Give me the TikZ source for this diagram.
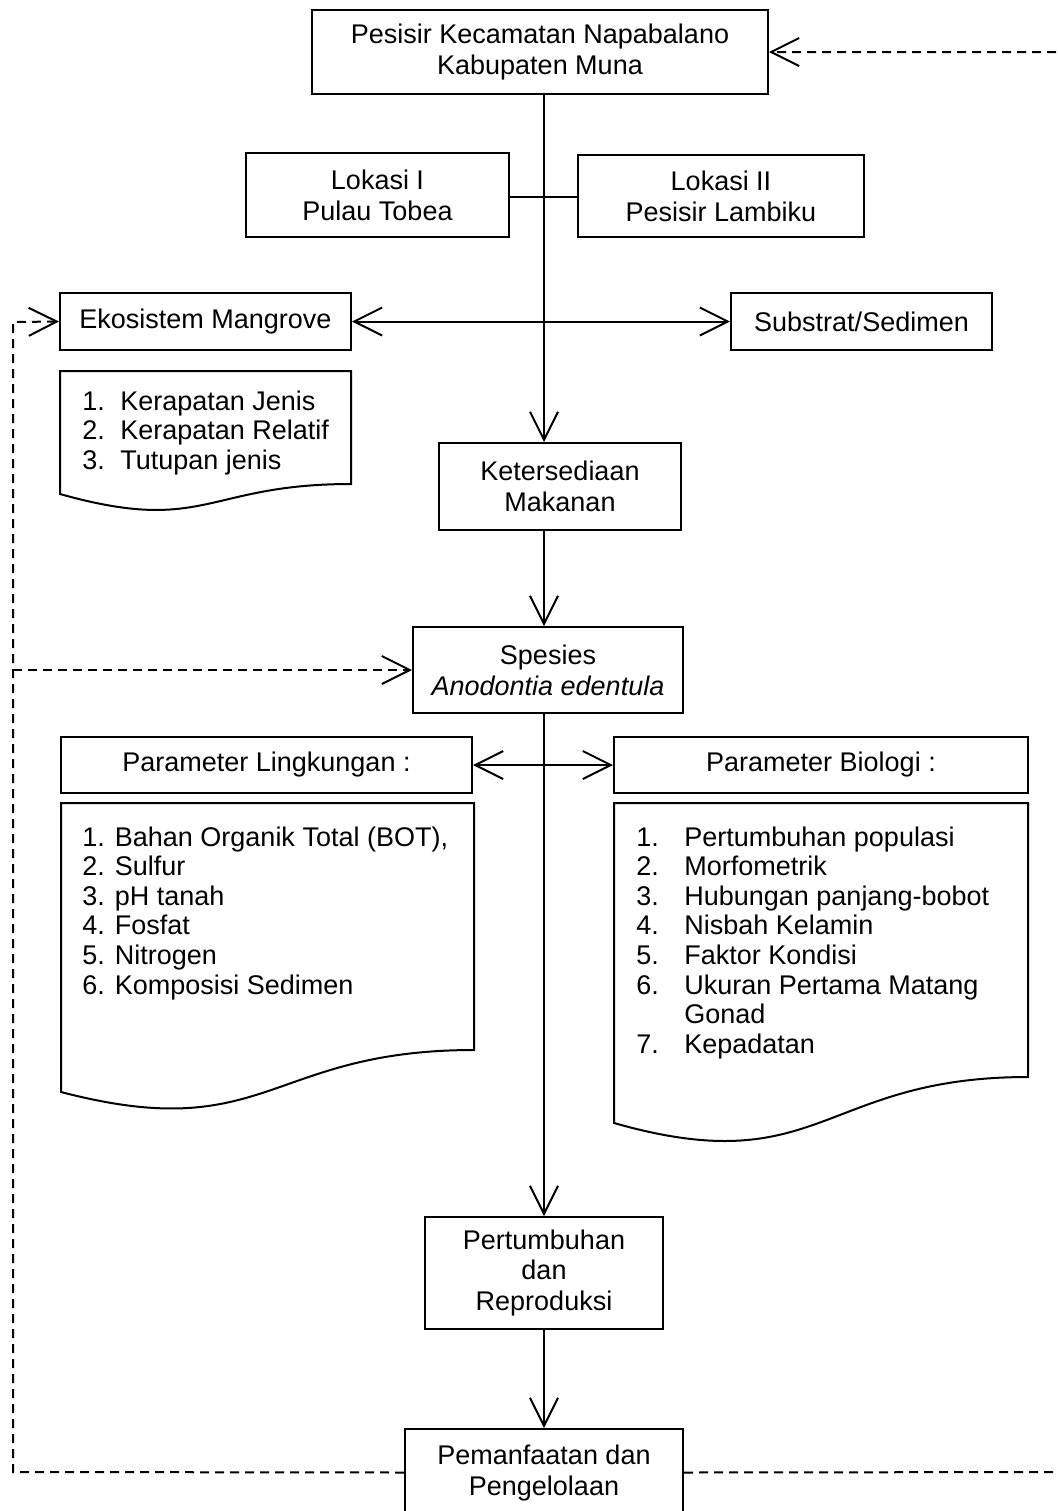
\documentclass[tikz,border=0pt]{standalone}
\usepackage{fontspec}
\setmainfont{Liberation Sans}
\usetikzlibrary{arrows.meta}
\begin{document}
\begin{tikzpicture}[x=0.5pt,y=-0.5pt,
  every node/.style={font=\fontsize{13.5}{15.5}\selectfont},
  box/.style={draw, line width=1pt, align=center, inner sep=0pt},
  doc/.style={draw, line width=1pt},
  lst/.style={anchor=base west, inner sep=0pt, font=\fontsize{13.5}{14.8}\selectfont},
  conn/.style={line width=1pt},
  arr/.style={line width=1pt, -{Straight Barb[length=14pt,width=14pt]}},
  darr/.style={line width=1pt, {Straight Barb[length=14pt,width=14pt]}-{Straight Barb[length=14pt,width=14pt]}},
  fbarr/.style={line width=1pt, dash pattern=on 4.5pt off 3pt, -{Straight Barb[length=14pt,width=14pt]}},
]
\path[use as bounding box, clip] (0,0) rectangle (1058,1511);

% boxes
\node[box, minimum width=228pt, minimum height=42pt] (top) at (540,52) {Pesisir Kecamatan Napabalano\\Kabupaten Muna};
\node[box, minimum width=131.5pt, minimum height=42pt] (lok1) at (377.5,195) {Lokasi I\\Pulau Tobea};
\node[box, minimum width=143pt, minimum height=41pt] (lok2) at (721,196) {Lokasi II\\Pesisir Lambiku};
\node[box, minimum width=145.5pt, minimum height=28.5pt] (eko) at (205.5,321.5) {Ekosistem Mangrove};
\node[box, minimum width=130.5pt, minimum height=28.5pt] (sub) at (861.5,321.5) {Substrat/Sedimen};
\node[box, minimum width=121pt, minimum height=43.5pt] (ket) at (560,486.5) {Ketersediaan\\Makanan};
\node[box, minimum width=135pt, minimum height=43pt] (spe) at (548,670) {Spesies\\\textit{Anodontia edentula}};
\node[box, minimum width=205.5pt, minimum height=28pt] (pl) at (266.5,765) {Parameter Lingkungan :};
\node[box, minimum width=207pt, minimum height=28pt] (pb) at (821,765) {Parameter Biologi :};
\node[box, minimum width=119pt, minimum height=56pt] (per) at (544,1273) {Pertumbuhan\\dan\\Reproduksi};
\node[box, minimum width=139pt, minimum height=43.5pt] (pem) at (544,1472.5) {Pemanfaatan dan\\Pengelolaan};

% document shapes
\draw[doc, line join=miter] (60,494) -- (60,371) -- (351,371) -- (351,484) .. controls (205.5,484) and (205.5,535) .. (60,494) -- cycle;
\draw[doc, line join=miter] (61,1092) -- (61,803) -- (474,803) -- (474,1050) .. controls (267.5,1050) and (267.5,1146) .. (61,1092) -- cycle;
\draw[doc, line join=miter] (614,1123) -- (614,803) -- (1028,803) -- (1028,1077) .. controls (821,1077) and (821,1182) .. (614,1123) -- cycle;

\node[lst] (ekol) at (82,410) {\begin{tabular}[t]{@{}p{19pt}@{}l@{}}1.&Kerapatan Jenis\\2.&Kerapatan Relatif\\3.&Tutupan jenis\end{tabular}};
\node[lst] (pll) at (82,846) {\begin{tabular}[t]{@{}l@{}}1. Bahan Organik Total (BOT),\\2. Sulfur\\3. pH tanah\\4. Fosfat\\5. Nitrogen\\6. Komposisi Sedimen\end{tabular}};
\node[lst] (pbl) at (636,846) {\begin{tabular}[t]{@{}p{24pt}@{}l@{}}1.&Pertumbuhan populasi\\2.&Morfometrik\\3.&Hubungan panjang-bobot\\4.&Nisbah Kelamin\\5.&Faktor Kondisi\\6.&Ukuran Pertama Matang\\&Gonad\\7.&Kepadatan\end{tabular}};

% helper coordinates
\coordinate (sp) at (544,0);
\coordinate (ly) at (0,197);
\coordinate (lb) at (13,1472);
\coordinate (lt) at (13,322);
\coordinate (ls) at (13,670);
\coordinate (rb) at (1075,1472);
\coordinate (rt) at (1075,52);

% solid connectors
\draw[arr] (top.south -| sp) -- (ket.north -| sp);
\draw[conn] (lok1.east |- ly) -- (lok2.west |- ly);
\draw[darr] (eko.east) -- (sub.west);
\draw[arr] (ket.south -| sp) -- (spe.north -| sp);
\draw[darr] (pl.east) -- (pb.west);
\draw[arr] (spe.south -| sp) -- (per.north);
\draw[arr] (per.south) -- (pem.north);

% dashed feedback connectors
\draw[fbarr] (pem.west) -- (lb) -- (lt) -- (eko.west);
\draw[fbarr] (ls) -- (spe.west);
\draw[fbarr] (pem.east) -- (rb) -- (rt) -- (top.east);
\end{tikzpicture}
\end{document}
